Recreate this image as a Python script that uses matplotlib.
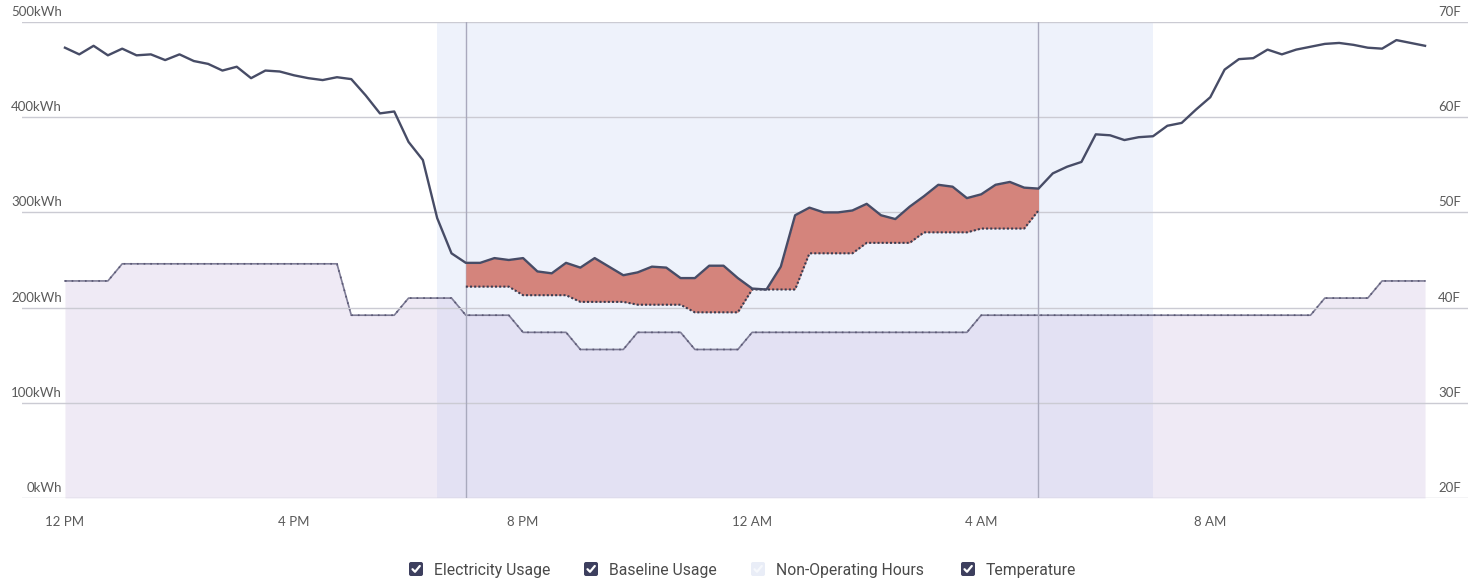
import matplotlib
matplotlib.use("Agg")
import matplotlib.pyplot as plt
import numpy as np
from matplotlib.patches import FancyBboxPatch
from matplotlib.lines import Line2D

# ---------------- data ----------------
# 15-minute intervals starting at 12 PM (hours after noon)
hours = [i * 0.25 for i in range(96)]

electricity_kwh = [
    473, 466, 475, 465, 472, 465, 466, 460, 466, 459, 456, 449,
    453, 441, 449, 448, 444, 441, 439, 442, 440, 423, 404, 406,
    374, 355, 294, 257, 247, 247, 252, 250, 252, 238, 236, 247,
    242, 252, 243, 234, 237, 243, 242, 231, 231, 244, 244, 231,
    220, 219, 243, 297, 305, 300, 300, 302, 309, 297, 293, 306,
    317, 329, 327, 315, 319, 329, 332, 326, 325, 341, 348, 353,
    382, 381, 376, 379, 380, 391, 394, 408, 421, 450, 461, 462,
    471, 466, 471, 474, 477, 478, 476, 473, 472, 481, 478, 475,
]

# baseline only during the event window (7 PM .. 5 AM), indices 28..68
baseline_start = 28
baseline_kwh = [
    222, 222, 222, 222, 213, 213, 213, 213, 206, 206, 206, 206,
    203, 203, 203, 203, 195, 195, 195, 195, 219, 219, 219, 219,
    257, 257, 257, 257, 268, 268, 268, 268, 279, 279, 279, 279,
    283, 283, 283, 283, 302,
]

temperature_f = [
    42.8, 42.8, 42.8, 42.8, 44.6, 44.6, 44.6, 44.6, 44.6, 44.6, 44.6, 44.6,
    44.6, 44.6, 44.6, 44.6, 44.6, 44.6, 44.6, 44.6, 39.2, 39.2, 39.2, 39.2,
    41.0, 41.0, 41.0, 41.0, 39.2, 39.2, 39.2, 39.2, 37.4, 37.4, 37.4, 37.4,
    35.6, 35.6, 35.6, 35.6, 37.4, 37.4, 37.4, 37.4, 35.6, 35.6, 35.6, 35.6,
    37.4, 37.4, 37.4, 37.4, 37.4, 37.4, 37.4, 37.4, 37.4, 37.4, 37.4, 37.4,
    37.4, 37.4, 37.4, 37.4, 39.2, 39.2, 39.2, 39.2, 39.2, 39.2, 39.2, 39.2,
    39.2, 39.2, 39.2, 39.2, 39.2, 39.2, 39.2, 39.2, 39.2, 39.2, 39.2, 39.2,
    39.2, 39.2, 39.2, 39.2, 41.0, 41.0, 41.0, 41.0, 42.8, 42.8, 42.8, 42.8,
]

non_operating = (6.5, 19.0)      # 6:30 PM .. 7 AM
event_lines = [7.0, 17.0]        # 7 PM, 5 AM

x_ticks = [0, 4, 8, 12, 16, 20]
x_tick_labels = ["12 PM", "4 PM", "8 PM", "12 AM", "4 AM", "8 AM"]
kwh_ticks = [0, 100, 200, 300, 400, 500]
kwh_labels = ["0kWh", "100kWh", "200kWh", "300kWh", "400kWh", "500kWh"]
temp_ticks = [20, 30, 40, 50, 60, 70]
temp_labels = ["20F", "30F", "40F", "50F", "60F", "70F"]

legend_labels = ["Electricity Usage", "Baseline Usage", "Non-Operating Hours", "Temperature"]

# ---------------- style ----------------
LINE = "#474c66"
RED = "#d4847c"
GRID = "#cbcbd3"
VLINE = "#a9a9bd"
BAND = "#eef2fb"
TEMP_FILL = "#cabce1"
TEMP_LINE = "#7e7c96"
TXT = "#5a5a5a"
TICK_FONT = ["Lato", "DejaVu Sans"]
LEG_FONT = ["Roboto", "DejaVu Sans"]

W, H = 1470, 579
fig = plt.figure(figsize=(W / 100, H / 100), dpi=100)
fig.patch.set_facecolor("white")

ax_left, ax_right, ax_top, ax_bottom = 22, 1468, 22, 498
rect = [ax_left / W, 1 - ax_bottom / H, (ax_right - ax_left) / W, (ax_bottom - ax_top) / H]

ax_t = fig.add_axes(rect)                       # temperature / background
ax = fig.add_axes(rect, sharex=ax_t)            # electricity on top
ax_t.set_zorder(0)
ax.set_zorder(1)
ax.patch.set_visible(False)

t = np.array(hours)
elec = np.array(electricity_kwh)
temp = np.array(temperature_f)
base = np.array(baseline_kwh)
tb = t[baseline_start:baseline_start + len(base)]
eb = elec[baseline_start:baseline_start + len(base)]

ax_t.set_xlim(-0.75, 24.5)
ax_t.set_ylim(20, 70)
ax.set_ylim(0, 500)

# background band and temperature area
ax_t.axvspan(*non_operating, color=BAND, lw=0, zorder=0)
ax_t.fill_between(t, temp, 20, color=TEMP_FILL, alpha=0.3, lw=0, zorder=1)
ax_t.plot(t, temp, color=TEMP_LINE, lw=1.2, zorder=2)
ax_t.plot(t, temp, color="#5a5874", lw=1.2, ls=(0, (1, 3)), zorder=2)

# grid lines
for v in kwh_ticks:
    ax.axhline(v, color=GRID, lw=1.0, zorder=0)
for v in event_lines:
    ax.axvline(v, color=VLINE, lw=1.0, zorder=0)

# savings area, baseline and electricity
ax.fill_between(tb, eb, base, where=eb >= base - 0.5, interpolate=True,
                color=RED, lw=0, zorder=2)
ax.plot(tb, base, color="#3a3d52", lw=1.5, ls=(0, (1, 1)), zorder=3)
ax.plot(t, elec, color=LINE, lw=1.7, zorder=4)

for a in (ax, ax_t):
    for s in a.spines.values():
        s.set_visible(False)
    a.tick_params(left=False, right=False, labelleft=False, labelright=False,
                  length=0)
ax_t.set_yticks([])
ax.set_yticks([])
ax.set_xticks(x_ticks)
ax.set_xticklabels(x_tick_labels, fontfamily=TICK_FONT, fontsize=9.5, color=TXT)
ax.tick_params(axis="x", pad=13)
ax_t.tick_params(axis="x", labelbottom=False)

# y labels placed above grid lines
for v, lab in zip(kwh_ticks, kwh_labels):
    ax.annotate(lab, xy=(0, v), xycoords=("axes fraction", "data"),
                xytext=(40, 6), textcoords="offset pixels",
                ha="right", va="baseline", fontsize=9.5, color=TXT,
                fontfamily=TICK_FONT)
for v, lab in zip(temp_ticks, temp_labels):
    ax_t.annotate(lab, xy=(1, v), xycoords=("axes fraction", "data"),
                  xytext=(-7, 6), textcoords="offset pixels",
                  ha="right", va="baseline", fontsize=9.5, color=TXT,
                  fontfamily=TICK_FONT)

# ---------------- legend (checkbox style) ----------------
lg = fig.add_axes([0, 0, 1, 1], zorder=5)
lg.set_xlim(0, W)
lg.set_ylim(H, 0)
lg.axis("off")
lg.patch.set_visible(False)

box_x = [416, 591, 758, 968]
box_colors = ["#3d3f5e", "#3d3f5e", "#e9edf7", "#3d3f5e"]
check_colors = ["white", "white", "#f6f8fc", "white"]
yc = 569
s = 14
for bx, lab, bc, cc in zip(box_x, legend_labels, box_colors, check_colors):
    lg.add_patch(FancyBboxPatch((bx - s / 2, yc - s / 2), s, s,
                                boxstyle="round,pad=0,rounding_size=2",
                                fc=bc, ec="none"))
    lg.add_line(Line2D([bx - 3.5, bx - 1, bx + 3.8], [yc + 0.2, yc + 2.8, yc - 3],
                       color=cc, lw=1.6, solid_capstyle="round",
                       solid_joinstyle="round"))
    lg.text(bx + 18, yc + 1, lab, ha="left", va="center", fontsize=11.3,
            color="#4a4a4a", fontfamily=LEG_FONT)

fig.savefig("out.png", dpi=100, facecolor="white")
